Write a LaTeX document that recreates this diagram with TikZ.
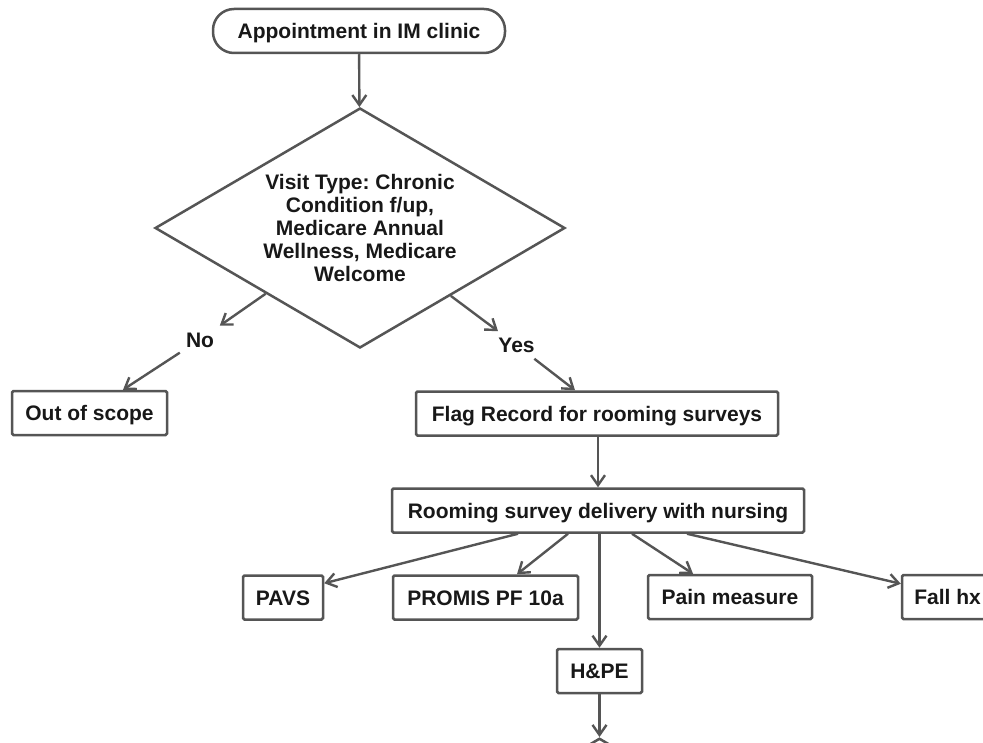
\documentclass[tikz,border=0pt]{standalone}
\usepackage{fontspec}
\setmainfont{Liberation Sans}
\usetikzlibrary{arrows.meta,shapes.geometric,calc}
\definecolor{linegray}{RGB}{85,85,85}
\definecolor{inkdark}{RGB}{24,24,24}
\frenchspacing
\begin{document}
\begin{tikzpicture}[x=1pt,y=-1pt,
  every node/.style={font=\fontsize{21}{23}\selectfont\bfseries, text=inkdark},
  box/.style={draw=linegray, line width=2.5pt, rectangle, rounded corners=1.5pt,
    minimum height=44pt, inner sep=0pt, text height=15pt, text depth=0pt},
  startbox/.style={box, rounded corners=21pt},
  decision/.style={draw=linegray, line width=2.5pt, diamond, aspect=1.708,
    minimum width=410pt, minimum height=240pt, inner sep=0pt, align=center},
  answer/.style={inner sep=6pt, text height=15.2pt, text depth=0pt},
  flow/.style={draw=linegray, line width=2.4pt,
    -{Straight Barb[length=10pt,width=14pt]}}
]
% page frame and clipping
\useasboundingbox (0,0) rectangle (983,743);
\fill[white] (0,0) rectangle (983,743);
\clip (0,0) rectangle (983,743);

% nodes
\node[startbox, minimum width=292pt] (appt) at (359,31) {Appointment in IM clinic};
\node[decision] (visit) at (360,228)
  {Visit Type: Chronic\\Condition f/up,\\Medicare Annual\\Wellness, Medicare\\Welcome};
\node[answer] (no) at (200,339.5) {No};
\node[answer] (yes) at (516.5,345) {Yes};
\node[box, minimum width=155pt] (oos) at (89.5,413) {Out of scope};
\node[box, minimum width=362pt] (flag) at (597,413.5) {Flag Record for rooming surveys};
\node[box, minimum width=412pt] (room) at (598,510.5) {Rooming survey delivery with nursing};
\node[box, minimum width=80pt] (pavs) at (283,597.5) {PAVS};
\node[box, minimum width=185pt] (promis) at (485.5,597.5) {PROMIS PF 10a};
\node[box, minimum width=164pt] (pain) at (730,597) {Pain measure};
\node[box, minimum width=91pt] (fall) at (947.5,597) {Fall hx};
\node[box, minimum width=85pt] (hpe) at (599.5,671) {H\&PE};
\node[decision, anchor=north] (next) at (599.5,737) {};

% connectors
\draw[flow] (appt) -- (visit);
\draw[flow] (visit) -- (no);
\draw[flow] (no) -- ($(oos.north)+(33.5,0)$);
\draw[flow] (visit) -- (yes);
\draw[flow] (yes) -- ($(flag.north)+(-22,0)$);
\draw[flow] (flag.south -| room.north) -- (room.north);
\draw[flow] ($(room.south)+(-80,0)$) -- ($(pavs.north east)+(0,9)$);
\draw[flow] ($(room.south)+(-30,0)$) -- ($(promis.north)+(31.5,0)$);
\draw[flow] (room.south -| hpe.north) -- (hpe.north);
\draw[flow] ($(room.south)+(34,0)$) -- ($(pain.north)+(-37,0)$);
\draw[flow] ($(room.south)+(89,0)$) -- ($(fall.north west)+(0,10)$);
\draw[flow] (hpe) -- (next);
\end{tikzpicture}
\end{document}
